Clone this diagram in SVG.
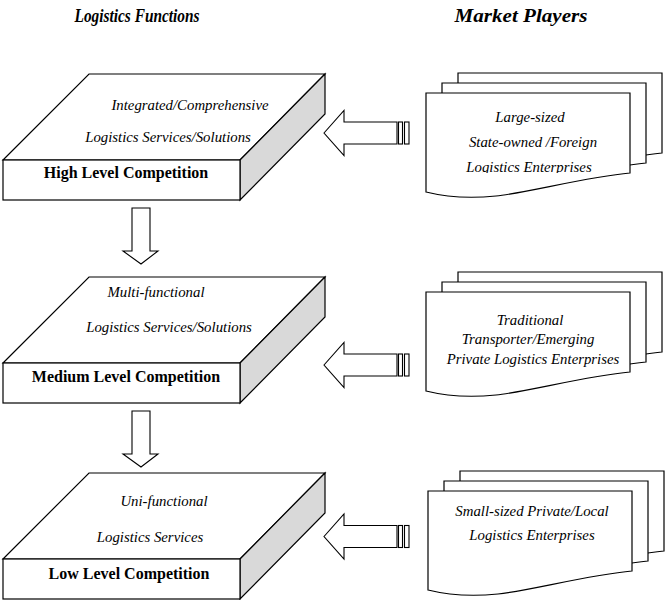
<svg xmlns="http://www.w3.org/2000/svg" width="666" height="600" viewBox="0 0 666 600">
  <style>
    .face { fill: #fff; stroke: #000; stroke-width: 1.2; stroke-linejoin: miter; }
    .side { fill: #d9d9d9; stroke: #000; stroke-width: 1.2; }
    .arrow { fill: #fff; stroke: #000; stroke-width: 1.1; }
    .sheet { fill: #fff; stroke: #000; stroke-width: 1.2; }
    .hdr { font-family: "Liberation Serif", "Times New Roman", serif; font-size: 18px; font-weight: bold; font-style: italic; text-anchor: middle; }
    .it { font-family: "Liberation Serif", "Times New Roman", serif; font-size: 14.8px; font-style: italic; text-anchor: middle; }
    .bold { font-family: "Liberation Serif", "Times New Roman", serif; font-size: 16px; font-weight: bold; text-anchor: middle; }
  </style>
  <defs>
    <!-- 3D slab: top face, front face, shaded side -->
    <g id="slab">
      <polygon class="face" points="3,160 89,74 325,74 240,160"/>
      <polygon class="side" points="240,160 325,74 325,114 240,200"/>
      <rect class="face" x="3" y="160" width="237" height="40"/>
    </g>
    <!-- document sheet with wavy bottom -->
    <path id="doc" d="M0,0 L0,99 C20,104 40,106 70,103 S160,84 204,80 L204,0 Z"/>
    <g id="docstack">
      <use href="#doc" class="sheet" x="32" y="-20"/>
      <use href="#doc" class="sheet" x="16" y="-10"/>
      <use href="#doc" class="sheet"/>
    </g>
    <!-- hollow left-pointing block arrow with two tail bars -->
    <g id="leftArrow">
      <polygon class="arrow" points="324,0 344,-22.5 344,-11 397,-11 397,11 344,11 344,22.5"/>
      <rect class="arrow" x="398.5" y="-11" width="4" height="22"/>
      <rect class="arrow" x="404.5" y="-11" width="4.5" height="22"/>
    </g>
    <polygon id="downArrow" class="arrow" points="132,208 150,208 150,251 158,251 141,264 123,251 132,251"/>
    <clipPath id="docClip1">
      <rect x="420" y="100" width="220" height="73"/>
    </clipPath>
  </defs>

  <!-- column headings -->
  <text class="hdr" x="137" y="22" textLength="125" lengthAdjust="spacingAndGlyphs">Logistics Functions</text>
  <text class="hdr" x="521" y="22" textLength="133" lengthAdjust="spacingAndGlyphs">Market Players</text>

  <!-- logistics function levels -->
  <g id="level-high">
    <use href="#slab"/>
    <text class="it" x="190" y="110">Integrated/Comprehensive</text>
    <text class="it" x="168" y="142">Logistics Services/Solutions</text>
    <text class="bold" x="126" y="178">High Level Competition</text>
  </g>
  <g id="level-medium">
    <use href="#slab" transform="translate(0,203)"/>
    <text class="it" x="156" y="297">Multi-functional</text>
    <text class="it" x="169" y="332">Logistics Services/Solutions</text>
    <text class="bold" x="126" y="382">Medium Level Competition</text>
  </g>
  <g id="level-low">
    <use href="#slab" transform="translate(0,399)"/>
    <text class="it" x="164" y="506">Uni-functional</text>
    <text class="it" x="150" y="542">Logistics Services</text>
    <text class="bold" x="129" y="579">Low Level Competition</text>
  </g>

  <!-- market player groups -->
  <g id="players-large">
    <use href="#docstack" transform="translate(426,93)"/>
    <text class="it" x="530" y="122">Large-sized</text>
    <text class="it" x="533" y="147">State-owned /Foreign</text>
    <text class="it" x="529" y="172" clip-path="url(#docClip1)">Logistics Enterprises</text>
  </g>
  <g id="players-medium">
    <use href="#docstack" transform="translate(426,292)"/>
    <text class="it" x="530" y="325">Traditional</text>
    <text class="it" x="528" y="344">Transporter/Emerging</text>
    <text class="it" x="533" y="364">Private Logistics Enterprises</text>
  </g>
  <g id="players-small">
    <use href="#docstack" transform="translate(428,491)"/>
    <text class="it" x="532" y="516">Small-sized Private/Local</text>
    <text class="it" x="532" y="540">Logistics Enterprises</text>
  </g>

  <!-- connectors -->
  <g id="connectors">
    <use href="#downArrow"/>
    <use href="#downArrow" transform="translate(0,203)"/>
    <use href="#leftArrow" transform="translate(0,133)"/>
    <use href="#leftArrow" transform="translate(0,365)"/>
    <use href="#leftArrow" transform="translate(0,536.5)"/>
  </g>
</svg>
